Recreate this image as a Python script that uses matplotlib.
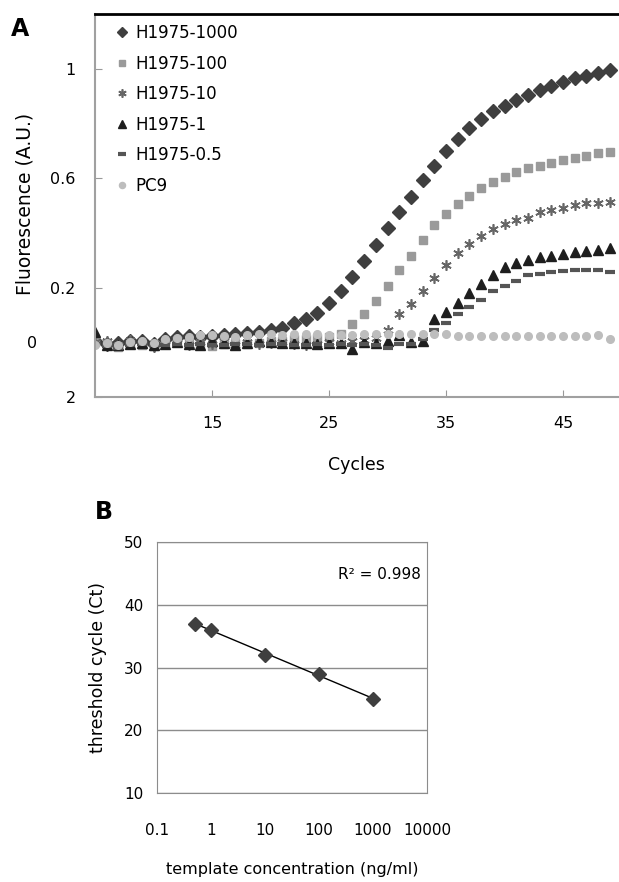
import numpy as np
import matplotlib
matplotlib.use("Agg")
import matplotlib.pyplot as plt
from matplotlib.ticker import FixedLocator, NullFormatter

# --- panel A data: fluorescence vs cycle ---
cycles = list(range(5, 50))

h1000 = [0.005, -0.007, -0.003, 0.005, 0.006, -0.007, 0.013, 0.019, 0.022, 0.02,
         0.021, 0.028, 0.03, 0.033, 0.039, 0.044, 0.053, 0.072, 0.084, 0.108,
         0.142, 0.187, 0.239, 0.296, 0.356, 0.417, 0.477, 0.532, 0.593, 0.645,
         0.698, 0.742, 0.784, 0.817, 0.845, 0.865, 0.886, 0.904, 0.922, 0.938,
         0.950, 0.966, 0.975, 0.984, 0.996]
h100 = [0.0, -0.012, -0.018, -0.008, -0.01, -0.015, -0.002, 0.004, -0.004, -0.012,
        -0.015, -0.008, -0.004, -0.008, -0.002, 0.004, 0.006, 0.01, 0.012, 0.015,
        0.02, 0.03, 0.065, 0.102, 0.150, 0.205, 0.265, 0.317, 0.375, 0.427,
        0.469, 0.504, 0.535, 0.565, 0.587, 0.603, 0.623, 0.638, 0.645, 0.656,
        0.665, 0.674, 0.681, 0.692, 0.696]
h10 = [0.0, 0.006, -0.012, 0.008, -0.004, -0.018, 0.004, 0.012, -0.01, 0.0,
       -0.005, 0.006, -0.012, 0.0, -0.005, -0.002, 0.0, -0.005, -0.01, -0.005,
       0.002, -0.003, 0.005, 0.008, 0.015, 0.044, 0.102, 0.141, 0.187, 0.233,
       0.281, 0.326, 0.359, 0.387, 0.413, 0.432, 0.447, 0.453, 0.475, 0.484,
       0.490, 0.502, 0.510, 0.508, 0.514]
h1 = [0.036, -0.012, -0.01, -0.005, -0.002, -0.01, -0.008, 0.0, -0.006, -0.01,
      0.003, -0.004, -0.01, -0.003, 0.005, 0.002, -0.002, -0.004, -0.002, -0.005,
      -0.002, -0.004, -0.025, 0.0, -0.002, 0.004, 0.028, 0.0, 0.006, 0.084,
      0.112, 0.144, 0.181, 0.213, 0.247, 0.274, 0.290, 0.302, 0.312, 0.316,
      0.324, 0.330, 0.335, 0.338, 0.344]
h05 = [-0.005, -0.015, -0.02, -0.012, -0.008, -0.012, -0.01, -0.005, -0.01, -0.008,
       -0.01, -0.012, -0.008, -0.006, -0.01, -0.005, -0.008, -0.01, -0.012, -0.008,
       -0.01, -0.006, -0.01, -0.008, -0.012, -0.02, -0.007, -0.005, 0.013, 0.044,
       0.069, 0.102, 0.128, 0.156, 0.187, 0.207, 0.225, 0.244, 0.251, 0.256,
       0.262, 0.263, 0.265, 0.263, 0.256]
pc9 = [-0.012, -0.004, -0.01, 0.002, 0.006, -0.004, 0.01, 0.016, 0.02, 0.025,
       0.026, 0.024, 0.02, 0.026, 0.03, 0.03, 0.026, 0.03, 0.03, 0.03,
       0.026, 0.026, 0.026, 0.03, 0.03, 0.03, 0.03, 0.03, 0.03, 0.03,
       0.03, 0.024, 0.023, 0.023, 0.023, 0.023, 0.023, 0.023, 0.023, 0.023,
       0.023, 0.023, 0.023, 0.028, 0.012]

series_names = ["H1975-1000", "H1975-100", "H1975-10", "H1975-1", "H1975-0.5", "PC9"]

# --- panel B data: standard curve ---
conc = [0.5, 1, 10, 100, 1000]
ct = [37, 36, 32, 29, 25]

fig = plt.figure(figsize=(6.19, 8.82), dpi=100)

# ---------------- Panel A ----------------
axA = fig.add_axes([0.1535, 0.55, 0.845, 0.4341])
styles = [
    dict(marker="D", color="#3f3f3f", ms=7),
    dict(marker="s", color="#9a9a9a", ms=5.5),
    dict(marker=(6, 2, 0), color="#666666", ms=7.5, mew=1.2),
    dict(marker="^", color="#1e1e1e", ms=6.5),
    dict(marker="_", color="#555555", ms=7, mew=3),
    dict(marker="o", color="#bdbdbd", ms=5.5),
]
for vals, name, st in zip([h1000, h100, h10, h1, h05, pc9], series_names, styles):
    axA.plot(cycles, vals, linestyle="none", label=name, **st)

axA.set_xlim(5, 49.7)
axA.set_ylim(-0.2, 1.2)
axA.set_xticks([15, 25, 35, 45])
axA.set_yticks([-0.2, 0.2, 0.6, 1.0])
axA.set_yticklabels(["2", "0.2", "0.6", "1"])
axA.yaxis.set_minor_locator(FixedLocator([0.0]))
axA.set_yticks([0.0], labels=["0"], minor=True)
axA.tick_params(axis="y", which="minor", length=0, pad=42, labelsize=11.5)
axA.tick_params(axis="both", which="major", direction="in", length=5,
                color="#999999", labelsize=11.5, pad=14)
for s in ["left", "bottom"]:
    axA.spines[s].set_color("#a0a0a0")
    axA.spines[s].set_linewidth(1.5)
axA.spines["right"].set_visible(False)
axA.spines["top"].set_color("black")
axA.spines["top"].set_linewidth(2)
axA.set_ylabel("Fluorescence (A.U.)", fontsize=13.5)
axA.yaxis.set_label_coords(-0.115, 0.505)
axA.set_xlabel("Cycles", fontsize=12.5, labelpad=18)
axA.legend(loc="upper left", bbox_to_anchor=(0.02, 1.0), frameon=False,
           fontsize=12, handlelength=0.8, handletextpad=0.4, labelspacing=0.75,
           markerscale=0.8, borderaxespad=0.2)
fig.text(0.032, 0.967, "A", fontsize=17, fontweight="bold", ha="center", va="center")

# ---------------- Panel B ----------------
axB = fig.add_axes([0.2536, 0.1005, 0.4362, 0.2853])
axB.set_xscale("log")
axB.set_xlim(0.1, 10000)
axB.set_ylim(10, 50)
fit = np.polyfit(np.log10(conc), ct, 1)
xfit = np.array([conc[0], conc[-1]])
axB.plot(xfit, np.polyval(fit, np.log10(xfit)), color="black", lw=1)
axB.plot(conc, ct, linestyle="none", marker="D", color="#3f3f3f", ms=7)
axB.set_yticks([10, 20, 30, 40, 50])
axB.set_xticks([0.1, 1, 10, 100, 1000, 10000])
axB.set_xticklabels(["0.1", "1", "10", "100", "1000", "10000"])
axB.xaxis.set_minor_formatter(NullFormatter())
axB.tick_params(axis="x", which="both", length=0, pad=21, labelsize=11)
axB.tick_params(axis="y", length=0, pad=10, labelsize=11)
axB.grid(axis="y", color="#8c8c8c", lw=1)
for s in axB.spines.values():
    s.set_color("#8c8c8c")
axB.set_ylabel("threshold cycle (Ct)", fontsize=12.5, labelpad=12)
axB.set_xlabel("template concentration (ng/ml)", fontsize=11.5)
axB.xaxis.set_label_coords(0.5, -0.272)
axB.text(0.978, 0.868, "R² = 0.998", transform=axB.transAxes, fontsize=11,
         ha="right", va="center")
fig.text(0.168, 0.42, "B", fontsize=17, fontweight="bold", ha="center", va="center")

fig.savefig("out.png", dpi=100)
